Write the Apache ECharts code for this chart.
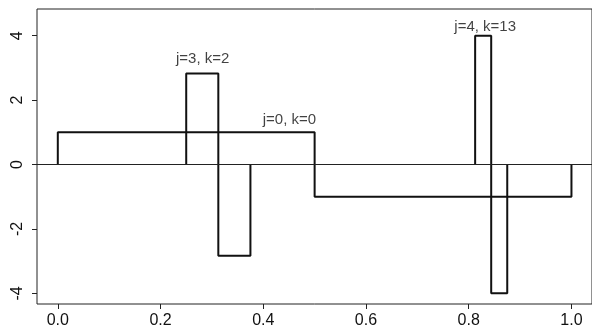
<!DOCTYPE html>
<html>
<head>
<meta charset="utf-8">
<script src="https://cdn.jsdelivr.net/npm/echarts@6/dist/echarts.min.js"></script>
<style>
  html, body { margin: 0; padding: 0; background: #fff; }
  #chart { width: 592px; height: 336px; }
</style>
</head>
<body>
<div id="chart"></div>
<script>
// Haar wavelet step outlines, [x, y] vertices
var haar00 = [[0, 0], [0, 1], [0.5, 1], [0.5, -1], [1, -1], [1, 0]];
var haar32 = [[0.25, 0], [0.25, 2.83], [0.3125, 2.83], [0.3125, -2.83], [0.375, -2.83], [0.375, 0]];
var haar413 = [[0.8125, 0], [0.8125, 4], [0.84375, 4], [0.84375, -4], [0.875, -4], [0.875, 0]];

var labelTexts = ['j=0, k=0', 'j=3, k=2', 'j=4, k=13'];
var labelPos = [[0.451, 1.4], [0.282, 3.29], [0.832, 4.28]];

var xTicks = [0, 0.2, 0.4, 0.6, 0.8, 1.0];
var yTicks = [-4, -2, 0, 2, 4];

var font = 'Liberation Sans, Arial, sans-serif';

function stepSeries(name, pts) {
  return {
    name: name,
    type: 'line',
    data: pts,
    symbol: 'none',
    lineStyle: { color: '#111', width: 2 },
    z: 3
  };
}

function init() {
  var chart = echarts.init(document.getElementById('chart'));

  var labelData = labelPos.map(function (p, i) {
    return { value: p, name: labelTexts[i] };
  });

  var option = {
    animation: false,
    backgroundColor: '#fff',
    grid: {
      left: 37, top: 9, right: -6, bottom: 32,
      show: true, borderColor: '#222', borderWidth: 1
    },
    xAxis: {
      type: 'value',
      min: -0.0405, max: 1.04,
      axisLine: { show: false, onZero: false },
      splitLine: { show: false },
      axisTick: { show: true, customValues: xTicks, length: 5, lineStyle: { color: '#222' } },
      axisLabel: {
        customValues: xTicks, color: '#111', fontSize: 16, fontFamily: font, margin: 9,
        formatter: function (v) { return v.toFixed(1); }
      }
    },
    yAxis: {
      type: 'value',
      min: -4.33, max: 4.83,
      axisLine: { show: false, onZero: false },
      splitLine: { show: false },
      axisTick: { show: true, customValues: yTicks, length: 5, lineStyle: { color: '#222' } },
      axisLabel: {
        customValues: yTicks, color: '#111', fontSize: 16, fontFamily: font,
        rotate: 90, margin: 11
      }
    },
    series: [
      {
        type: 'line',
        data: [],
        markLine: {
          silent: true,
          symbol: 'none',
          label: { show: false },
          lineStyle: { color: '#222', width: 1, type: 'solid' },
          data: [{ yAxis: 0 }]
        }
      },
      stepSeries('j=0, k=0', haar00),
      stepSeries('j=3, k=2', haar32),
      stepSeries('j=4, k=13', haar413),
      {
        type: 'scatter',
        data: labelData,
        symbolSize: 0,
        label: {
          show: true,
          position: 'inside',
          formatter: '{b}',
          color: '#111',
          fontSize: 15,
          fontFamily: font
        }
      }
    ]
  };

  chart.setOption(option);
}
window.onload = init;
</script>
</body>
</html>
